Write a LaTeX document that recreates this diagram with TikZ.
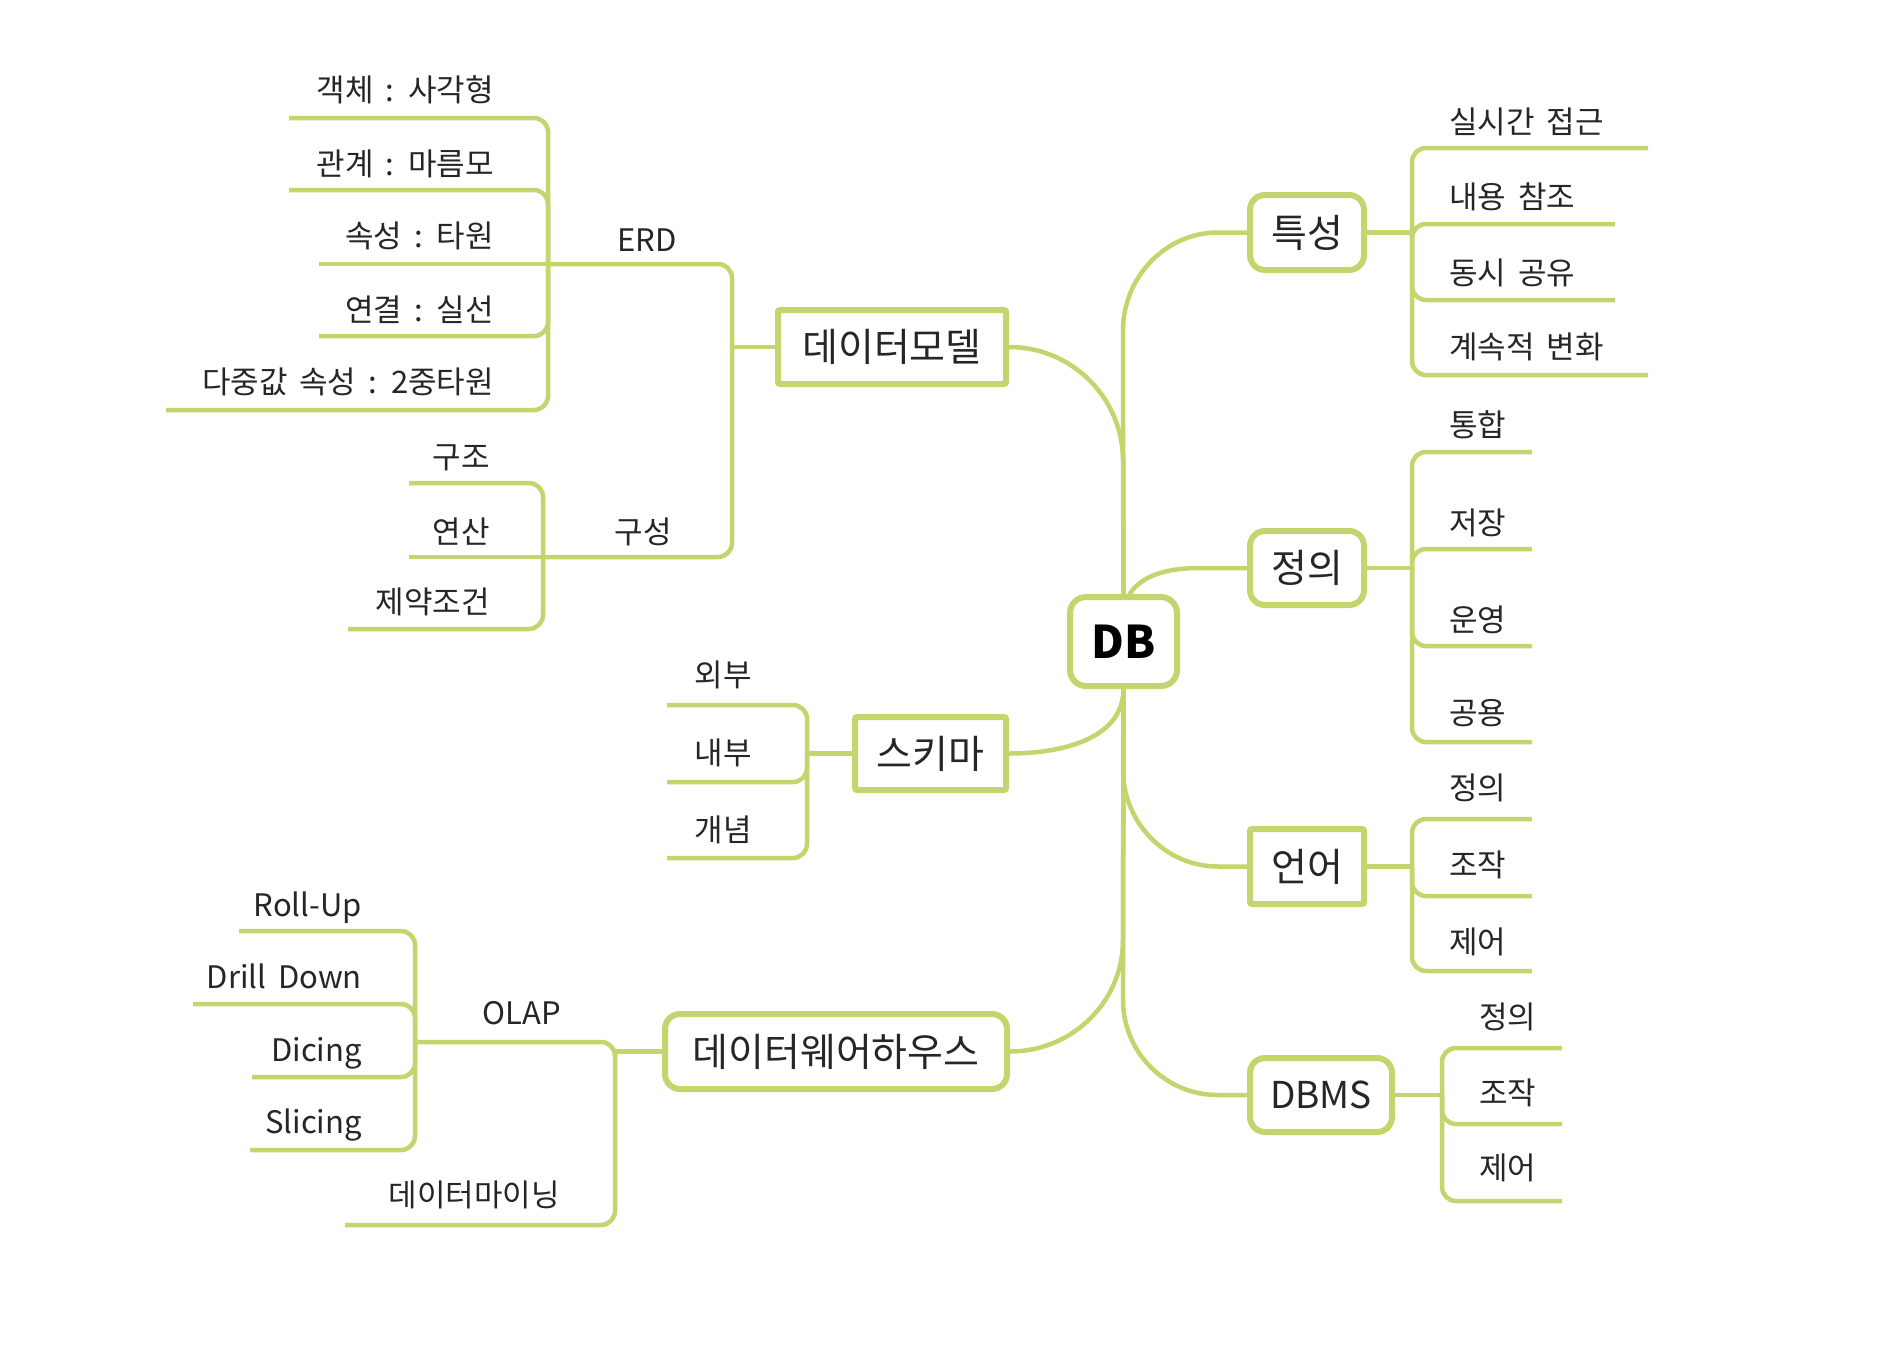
\documentclass[tikz,border=0pt]{standalone}
\usepackage{fontspec}
\setmainfont{Noto Sans CJK KR}[WordSpace=1.7]
\pgfdeclarelayer{bg}
\pgfsetlayers{bg,main}
\definecolor{lg}{RGB}{195,213,108}
\definecolor{txt}{RGB}{38,38,38}
\begin{document}
\begin{tikzpicture}[x=1pt,y=-1pt,
  conn/.style={draw=lg, line width=4.5pt, rounded corners=14pt},
  trunk/.style={draw=lg, line width=4.5pt},
  boxbase/.style={draw=lg, line width=6pt, fill=white, inner sep=0pt, text=txt,
    font=\fontsize{39}{46}\selectfont, text height=31pt, text depth=2pt},
  sbox/.style={boxbase, rounded corners=2pt},
  rbox/.style={boxbase, rounded corners=15pt},
  leaf/.style={inner sep=0pt, text=txt, font=\fontsize{31}{37}\selectfont,
    text height=25pt, text depth=2pt},
  lleaf/.style={leaf, anchor=east},
  rleaf/.style={leaf, anchor=west},
  lab/.style={leaf}
]
\useasboundingbox (0,0) rectangle (1890,1368);

% ---------- boxes ----------
\node[rbox, font=\fontsize{45}{50}\selectfont\bfseries, text=black, text height=33pt, text depth=0pt,
  minimum width=107pt, minimum height=89pt, rounded corners=16pt] (DB) at (1123.5,641.5) {DB};
\node[sbox, minimum width=228pt, minimum height=74pt] (dm) at (892,347) {데이터모델};
\node[sbox, minimum width=151pt, minimum height=73pt] (sk) at (930.5,753.5) {스키마};
\node[rbox, minimum width=342pt, minimum height=75pt] (dw) at (836,1051.5) {데이터웨어하우스};
\node[rbox, minimum width=114pt, minimum height=75pt] (tk) at (1307,232.5) {특성};
\node[rbox, minimum width=114pt, minimum height=74pt] (jy) at (1307,568) {정의};
\node[sbox, minimum width=114pt, minimum height=75pt] (ey) at (1307,866.5) {언어};
\node[rbox, font=\fontsize{37}{44}\selectfont, minimum width=142pt, minimum height=74pt, text height=27pt, text depth=0pt] (dbms) at (1321,1095) {DBMS};

% ---------- junctions and leaf line ends ----------
\coordinate (jDM) at (732,347);
\coordinate (jERD) at (548,264);
\coordinate (e1) at (289,118);
\coordinate (e2) at (289,190);
\coordinate (e3) at (319,264);
\coordinate (e4) at (319,336);
\coordinate (e5) at (166,410);
\coordinate (jGS) at (543,557);
\coordinate (g1) at (409,483);
\coordinate (g2) at (409,557);
\coordinate (g3) at (348,629);
\coordinate (jSK) at (807,753.5);
\coordinate (s1) at (667,705);
\coordinate (s2) at (667,782);
\coordinate (s3) at (667,858);
\coordinate (jDW) at (615,1051.5);
\coordinate (jOL) at (415,1042);
\coordinate (dmn) at (345,1225);
\coordinate (o1) at (239,931);
\coordinate (o2) at (193,1004);
\coordinate (o3) at (252,1077);
\coordinate (o4) at (250,1150);
\coordinate (jTK) at (1412,232.5);
\coordinate (k1) at (1648,148);
\coordinate (k2) at (1615,224);
\coordinate (k3) at (1615,300);
\coordinate (k4) at (1648,375);
\coordinate (jJY) at (1412,568);
\coordinate (d1) at (1532,452);
\coordinate (d2) at (1532,549);
\coordinate (d3) at (1532,646);
\coordinate (d4) at (1532,742);
\coordinate (jEY) at (1412,866.5);
\coordinate (l1) at (1532,819);
\coordinate (l2) at (1532,896);
\coordinate (l3) at (1532,971);
\coordinate (jDB) at (1442,1095);
\coordinate (m1) at (1562,1048);
\coordinate (m2) at (1562,1124);
\coordinate (m3) at (1562,1201);

% ---------- labels ----------
\node[lleaf] (te1) at (494,90) {객체 : 사각형};
\node[lleaf] (te2) at (494,164) {관계 : 마름모};
\node[lleaf] (te3) at (494,236) {속성 : 타원};
\node[lleaf] (te4) at (494,310) {연결 : 실선};
\node[lleaf] (te5) at (494,382) {다중값 속성 : 2중타원};
\node[lab] (terd) at (647,240) {ERD};
\node[lab] (tgs) at (643,532) {구성};
\node[lleaf] (tg1) at (490,457) {구조};
\node[lleaf] (tg2) at (490,532) {연산};
\node[lleaf] (tg3) at (490,602) {제약조건};
\node[lleaf] (ts1) at (752,675) {외부};
\node[lleaf] (ts2) at (752,753) {내부};
\node[lleaf] (ts3) at (752,830) {개념};
\node[lab] (tol) at (522,1013) {OLAP};
\node[lleaf] (to1) at (362,905) {Roll-Up};
\node[lleaf] (to2) at (362,977) {Drill Down};
\node[lleaf] (to3) at (362,1050) {Dicing};
\node[lleaf] (to4) at (362,1122) {Slicing};
\node[lleaf] (tdm) at (560,1195) {데이터마이닝};
\node[rleaf] (tk1) at (1449,122) {실시간 접근};
\node[rleaf] (tk2) at (1449,197) {내용 참조};
\node[rleaf] (tk3) at (1449,273) {동시 공유};
\node[rleaf] (tk4) at (1449,347) {계속적 변화};
\node[rleaf] (td1) at (1449,425) {통합};
\node[rleaf] (td2) at (1449,523) {저장};
\node[rleaf] (td3) at (1449,620) {운영};
\node[rleaf] (td4) at (1449,713) {공용};
\node[rleaf] (tl1) at (1449,788) {정의};
\node[rleaf] (tl2) at (1449,865) {조작};
\node[rleaf] (tl3) at (1449,942) {제어};
\node[rleaf] (tm1) at (1479,1017) {정의};
\node[rleaf] (tm2) at (1479,1093) {조작};
\node[rleaf] (tm3) at (1479,1168) {제어};

% ---------- connectors ----------
\begin{pgfonlayer}{bg}
\fill[white] (0,0) rectangle (1890,1368);
% trunk from DB
\draw[trunk] (DB.north) -- (1123,330) .. controls (1123,278) and (1165,232.5) .. (1218,232.5) -- (tk.west);
\draw[trunk] (dm.east) .. controls (1072,347) and (1123,398) .. (1123,461) -- (DB.north);
\draw[trunk] (DB.center) -- (1123,620) .. controls (1123,585) and (1150,568) .. (1200,568) -- (jy.west);
\draw[trunk] (DB.south) .. controls (1123,740) and (1060,753.5) .. (sk.east);
\draw[trunk] (DB.south) -- (1123,770) .. controls (1123,822) and (1165,866.5) .. (1218,866.5) -- (ey.west);
\draw[trunk] (DB.south) -- (1123,940) .. controls (1123,1002) and (1072,1051.5) .. (dw.east);
\draw[trunk] (DB.south) -- (1123,1000) .. controls (1123,1052) and (1165,1095) .. (1218,1095) -- (dbms.west);
% 데이터모델
\draw[conn] (dm.west) -- (jDM);
\draw[conn] (jDM) |- (jERD);
\draw[conn] (jDM) |- (jGS);
\draw[conn] (jERD) |- (e1);
\draw[conn] (jERD) |- (e2);
\draw[conn] (jERD) -- (e3);
\draw[conn] (jERD) |- (e4);
\draw[conn] (jERD) |- (e5);
\draw[conn] (jGS) |- (g1);
\draw[conn] (jGS) -- (g2);
\draw[conn] (jGS) |- (g3);
% 스키마
\draw[conn] (sk.west) -- (jSK);
\draw[conn] (jSK) |- (s1);
\draw[conn] (jSK) |- (s2);
\draw[conn] (jSK) |- (s3);
% 데이터웨어하우스
\draw[conn] (dw.west) -- (jDW);
\draw[conn] (jDW) |- (jOL);
\draw[conn] (jDW) |- (dmn);
\draw[conn] (jOL) |- (o1);
\draw[conn] (jOL) |- (o2);
\draw[conn] (jOL) |- (o3);
\draw[conn] (jOL) |- (o4);
% 특성
\draw[conn] (tk.east) -- (jTK);
\draw[conn] (jTK) |- (k1);
\draw[conn] (jTK) |- (k2);
\draw[conn] (jTK) |- (k3);
\draw[conn] (jTK) |- (k4);
% 정의
\draw[conn] (jy.east) -- (jJY);
\draw[conn] (jJY) |- (d1);
\draw[conn] (jJY) |- (d2);
\draw[conn] (jJY) |- (d3);
\draw[conn] (jJY) |- (d4);
% 언어
\draw[conn] (ey.east) -- (jEY);
\draw[conn] (jEY) |- (l1);
\draw[conn] (jEY) |- (l2);
\draw[conn] (jEY) |- (l3);
% DBMS
\draw[conn] (dbms.east) -- (jDB);
\draw[conn] (jDB) |- (m1);
\draw[conn] (jDB) |- (m2);
\draw[conn] (jDB) |- (m3);
\end{pgfonlayer}
\end{tikzpicture}
\end{document}
